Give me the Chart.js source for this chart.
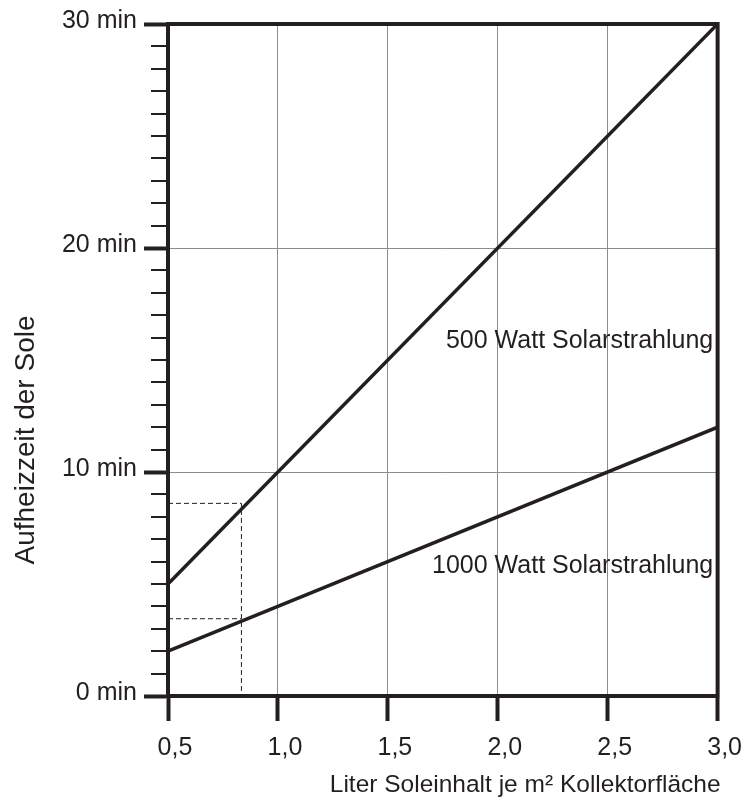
<!DOCTYPE html>
<html>
<head>
<meta charset="utf-8">
<script src="https://cdn.jsdelivr.net/npm/chart.js@4/dist/chart.umd.min.js"></script>
<style>
  html, body { margin: 0; padding: 0; background: #fff; }
  #wrap { width: 747px; height: 801px; }
</style>
</head>
<body>
<div id="wrap"><canvas id="c" width="747" height="801"></canvas></div>
<script>
// ---- data ----
const xValues = [0.5, 3.0];
const watt500 = [5, 30];
const watt1000 = [2, 12];
const seriesNames = ['500 Watt Solarstrahlung', '1000 Watt Solarstrahlung'];
// label anchors (data space: right end x, baseline y)
const labelX = [2.98, 2.98];
const labelY = [15.55, 5.5];
// dashed reading example
const markerX = 0.834;
const markerY500 = 8.6;
const markerY1000 = 3.45;
// axes
const xTickValues = [0.5, 1.0, 1.5, 2.0, 2.5, 3.0];
const xTickLabels = ['0,5', '1,0', '1,5', '2,0', '2,5', '3,0'];
const yTickValues = [0, 10, 20, 30];
const yTickLabels = ['0 min', '10 min', '20 min', '30 min'];
const xTitle = 'Liter Soleinhalt je m² Kollektorfläche';
const yTitle = 'Aufheizzeit der Sole';

const INK = '#231f20';
const GRID = '#8c8c8c';
const FONT = '"Liberation Sans", Arial, sans-serif';

const pts = (xs, ys) => xs.map((x, i) => ({ x, y: ys[i] }));

const extras = {
  id: 'extras',
  afterDraw(chart) {
    const { ctx, chartArea: a, scales: { x, y } } = chart;
    ctx.save();
    // minor y ticks every minute
    ctx.strokeStyle = INK;
    ctx.lineWidth = 2;
    for (let v = 1; v < 30; v++) {
      if (v % 10 === 0) continue;
      const py = Math.round(y.getPixelForValue(v));
      ctx.beginPath();
      ctx.moveTo(a.left - 17, py);
      ctx.lineTo(a.left, py);
      ctx.stroke();
    }
    // top and right frame
    ctx.lineWidth = 4;
    ctx.lineCap = 'square';
    ctx.beginPath();
    ctx.moveTo(a.left, a.top);
    ctx.lineTo(a.right, a.top);
    ctx.lineTo(a.right, a.bottom);
    ctx.stroke();
    // series labels
    ctx.fillStyle = INK;
    ctx.font = '25px ' + FONT;
    ctx.textAlign = 'right';
    ctx.textBaseline = 'alphabetic';
    seriesNames.forEach((n, i) => {
      ctx.fillText(n, x.getPixelForValue(labelX[i]), y.getPixelForValue(labelY[i]));
    });
    // x title
    ctx.font = '24.5px ' + FONT;
    ctx.fillText(xTitle, a.right + 3, 792);
    // y title
    ctx.font = '28px ' + FONT;
    ctx.translate(34, 440);
    ctx.rotate(-Math.PI / 2);
    ctx.textAlign = 'center';
    ctx.fillText(yTitle, 0, 0);
    ctx.restore();
  }
};

new Chart(document.getElementById('c'), {
  type: 'scatter',
  data: {
    datasets: [
      { data: pts(xValues, watt500), showLine: true, borderColor: INK, borderWidth: 3.5, pointRadius: 0, tension: 0 },
      { data: pts(xValues, watt1000), showLine: true, borderColor: INK, borderWidth: 3.5, pointRadius: 0, tension: 0 },
      { data: [{ x: xValues[0], y: markerY500 }, { x: markerX, y: markerY500 }, { x: markerX, y: 0 }],
        showLine: true, borderColor: INK, borderWidth: 1, borderDash: [5, 3], pointRadius: 0 },
      { data: [{ x: xValues[0], y: markerY1000 }, { x: markerX, y: markerY1000 }],
        showLine: true, borderColor: INK, borderWidth: 1, borderDash: [5, 3], pointRadius: 0 }
    ]
  },
  options: {
    responsive: false,
    animation: false,
    devicePixelRatio: 1,
    layout: { padding: { top: 24, right: 29, left: 0, bottom: 0 } },
    plugins: { legend: { display: false }, tooltip: { enabled: false } },
    scales: {
      x: {
        type: 'linear',
        min: xTickValues[0],
        max: xTickValues[xTickValues.length - 1],
        afterBuildTicks: s => { s.ticks = xTickValues.map(v => ({ value: v })); },
        afterFit: s => { s.height = 105; },
        grid: {
          color: c => (c.tick && c.tick.value > xTickValues[0] && c.tick.value < xTickValues[xTickValues.length - 1]) ? GRID : 'rgba(0,0,0,0)',
          lineWidth: 1,
          tickColor: INK,
          tickWidth: 4,
          tickLength: 25
        },
        border: { color: INK, width: 4 },
        ticks: {
          color: INK,
          font: { family: FONT, size: 25 },
          padding: 12,
          labelOffset: 7,
          maxRotation: 0,
          autoSkip: false,
          callback: (v, i) => xTickLabels[i]
        }
      },
      y: {
        type: 'linear',
        min: yTickValues[0],
        max: yTickValues[yTickValues.length - 1],
        afterBuildTicks: s => { s.ticks = yTickValues.map(v => ({ value: v })); },
        afterFit: s => { s.width = 168; },
        grid: {
          color: c => (c.tick && c.tick.value > 0 && c.tick.value < 30) ? GRID : 'rgba(0,0,0,0)',
          lineWidth: 1,
          tickColor: INK,
          tickWidth: 4,
          tickLength: 24
        },
        border: { color: INK, width: 4 },
        ticks: {
          color: INK,
          font: { family: FONT, size: 25 },
          padding: 7,
          labelOffset: -3,
          autoSkip: false,
          callback: (v, i) => yTickLabels[i]
        }
      }
    }
  },
  plugins: [extras]
});
</script>
</body>
</html>
